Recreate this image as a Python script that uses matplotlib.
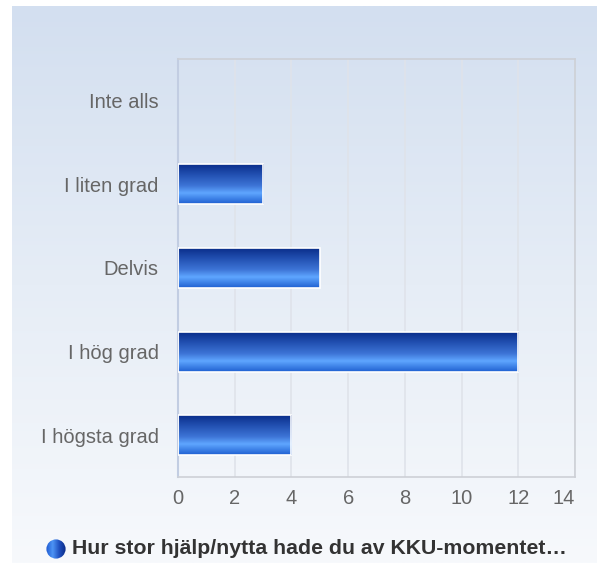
import numpy as np
import matplotlib
matplotlib.use("Agg")
import matplotlib.pyplot as plt
from matplotlib.colors import LinearSegmentedColormap
from matplotlib.patches import Circle

plt.rcParams['font.family'] = ['Liberation Sans', 'DejaVu Sans']

categories = ["Inte alls", "I liten grad", "Delvis", "I hög grad", "I högsta grad"]
values = [0, 3, 5, 12, 4]
xticks = [0, 2, 4, 6, 8, 10, 12, 14]
legend_label = "Hur stor hjälp/nytta hade du av KKU-momentet…"

W, H = 597, 563
fig = plt.figure(figsize=(W / 100, H / 100), dpi=100)

# background panel with light blue gradient
bg = fig.add_axes([12 / W, 0, 1 - 12 / W, (H - 6) / H])
bg_cmap = LinearSegmentedColormap.from_list("bg", ["#f7f9fc", "#e6edf6", "#d3dff0"])
bg.imshow(np.linspace(0, 1, 256).reshape(-1, 1), aspect="auto", cmap=bg_cmap,
          origin="lower", extent=(0, 1, 0, 1))
bg.set_axis_off()

ax = fig.add_axes([178 / W, (H - 477) / H, 397 / W, 418 / H])
ax.patch.set_alpha(0)

ypos = np.arange(len(categories))[::-1]
bars = ax.barh(ypos, values, height=0.48, facecolor="none", edgecolor="white",
               linewidth=1.2, zorder=3)

bar_cmap = LinearSegmentedColormap.from_list(
    "bar", [(0.0, "#1e5fd0"), (0.27, "#5fa6ff"), (0.45, "#3d74d6"),
            (0.75, "#1f4cad"), (1.0, "#082a86")])
grad = np.linspace(0, 1, 256).reshape(-1, 1)
for b in bars:
    if b.get_width() <= 0:
        b.set_linewidth(0)
        continue
    x0, y0 = b.get_x(), b.get_y()
    im = ax.imshow(grad, aspect="auto", cmap=bar_cmap, origin="lower",
                   extent=(x0, x0 + b.get_width(), y0, y0 + b.get_height()), zorder=2)
    im.set_clip_path(b)

ax.set_xlim(0, 14)
ax.set_ylim(-0.5, len(categories) - 0.5)
ax.set_xticks(xticks)
ax.set_yticks(ypos)
ax.set_yticklabels(categories)
ax.tick_params(length=0, labelsize=14.5, labelcolor="#666666")
ax.tick_params(axis="y", pad=14)
ax.tick_params(axis="x", pad=9)
ax.xaxis.grid(True, color="#dfe3ea", linewidth=1.2, zorder=0)
ax.set_axisbelow(True)
for s in ["top", "right", "bottom"]:
    ax.spines[s].set_color("#cdd0d6")
    ax.spines[s].set_linewidth(1.2)
ax.spines["left"].set_color("#c2cde2")
ax.spines["left"].set_linewidth(1.5)
last = ax.get_xticklabels()[-1]
last.set_horizontalalignment("right")

# legend
lax = fig.add_axes([46 / W, (H - 559) / H, 20 / W, 20 / H])
lax.set_xlim(0, 1)
lax.set_ylim(0, 1)
lax.set_axis_off()
circ = Circle((0.5, 0.5), 0.48, transform=lax.transData, facecolor="none", edgecolor="none")
lax.add_patch(circ)
sph_cmap = LinearSegmentedColormap.from_list("sph", ["#1c58d0", "#4d94f5", "#1f50c0", "#0a2a85"])
sim = lax.imshow(np.linspace(0, 1, 256).reshape(1, -1), aspect="auto", cmap=sph_cmap,
                 extent=(0, 1, 0, 1))
sim.set_clip_path(circ)
fig.text(72 / W, (H - 549) / H, legend_label, fontsize=15.3, fontweight="bold",
         color="#333333", va="center", ha="left")

fig.savefig("out.png", dpi=100)
